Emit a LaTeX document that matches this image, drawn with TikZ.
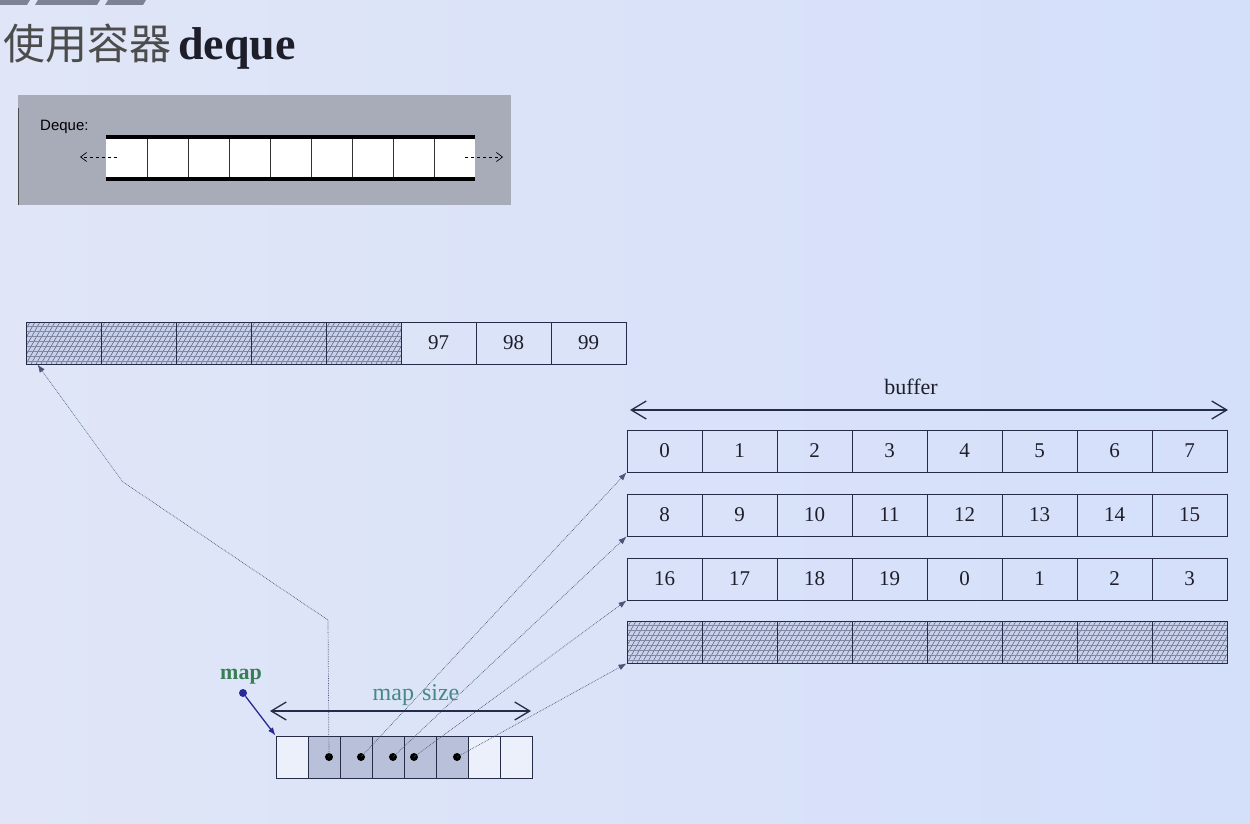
\documentclass[tikz,border=0pt]{standalone}
\usepackage{fontspec}
\setmainfont{Liberation Serif}
\newfontfamily\cjk{Noto Sans CJK SC}
\newfontfamily\arialf{Liberation Sans}
\usetikzlibrary{arrows.meta}
\definecolor{bgL}{RGB}{224,230,247}
\definecolor{bgR}{RGB}{212,223,250}
\definecolor{linec}{RGB}{38,44,72}
\definecolor{txtc}{RGB}{30,30,42}
\definecolor{hatchbg}{RGB}{200,208,234}
\definecolor{hatchc}{RGB}{75,85,120}
\definecolor{mapshade}{RGB}{184,192,218}
\definecolor{greybox}{RGB}{168,172,184}
\definecolor{ptrc}{RGB}{75,85,120}
\definecolor{mapgreen}{RGB}{55,125,85}
\definecolor{mapsizec}{RGB}{70,135,140}
\definecolor{mapblue}{RGB}{40,40,150}
\definecolor{barc}{RGB}{125,130,148}
\tikzset{
  cell/.style={draw=linec, line width=1pt, minimum width=75pt, minimum height=42pt,
    inner sep=0pt, text=txtc, font=\fontsize{21}{21}\selectfont},
  mcell/.style={draw=linec, line width=1pt, minimum width=32pt, minimum height=42pt, inner sep=0pt},
  hatched/.style={fill=hatchbg, path picture={
      \foreach \k in {-30,-25,...,80} {
        \draw[hatchc, line width=0.45pt]
          ([xshift=\k pt]path picture bounding box.south west) --
          ([xshift=\k pt+24pt, yshift=42pt]path picture bounding box.south west);
      }
      \foreach \k in {3,8,...,42} {
        \draw[hatchc!70, line width=0.35pt]
          ([yshift=\k pt]path picture bounding box.south west) --
          ([yshift=\k pt]path picture bounding box.south east);
      }
    }},
  dotn/.style={circle, fill=black, inner sep=0pt, minimum size=8pt},
  ptr/.style={draw=ptrc, line width=0.7pt, densely dotted, -{Latex[length=8pt,width=6pt]}},
  dim/.style={draw=linec, line width=1.3pt, {Straight Barb[length=15pt,width=18pt]}-{Straight Barb[length=15pt,width=18pt]}},
  dqarrow/.style={draw=black, line width=0.7pt, dashed, -{Straight Barb[length=6pt,width=9pt]}}
}
\begin{document}
\begin{tikzpicture}[x=1pt,y=-1pt]
\useasboundingbox (0,0) rectangle (1250,824);
\shade[left color=bgL, right color=bgR] (0,0) rectangle (1250,824);
% header bars
\fill[barc] (0,0) -- (30,0) -- (27,5) -- (0,5) -- cycle;
\fill[barc] (38,0) -- (100,0) -- (97,5) -- (35,5) -- cycle;
\fill[barc] (108,0) -- (146,0) -- (143,5) -- (105,5) -- cycle;
% title
\node[anchor=base west, inner sep=0pt] (title) at (3,60)
  {{\cjk\fontsize{42}{42}\selectfont\color{black!70}使用容器}\hspace{7pt}{\fontsize{46}{46}\selectfont\bfseries\color{txtc}deque}};
% deque illustration box
\fill[greybox] (18,95) rectangle (511,205);
\draw[black!70, line width=1pt] (18,108) -- (18,205);
\node[anchor=west, inner sep=0pt, font=\arialf\fontsize{15}{15}\selectfont] (dqlabel) at (40,127) {Deque:};
\fill[white] (106,139) rectangle (475,177);
\draw[black, line width=4pt] (106,137) -- (475,137);
\draw[black, line width=4pt] (106,179) -- (475,179);
\foreach \i in {0,...,7} { \draw[black!80, line width=0.8pt] ({147+41*\i},139) -- ({147+41*\i},177); }
\coordinate (dqLs) at (117,157);
\coordinate (dqLe) at (80,157);
\coordinate (dqRs) at (465,157);
\coordinate (dqRe) at (503,157);
\draw[dqarrow] (dqLs) -- (dqLe);
\draw[dqarrow] (dqRs) -- (dqRe);
% top array
\foreach \i in {1,...,5} { \node[cell, hatched] (t\i) at ({26+75*(\i-0.5)},343) {}; }
\node[cell] (t6) at ({26+75*5.5},343) {97};
\node[cell] (t7) at ({26+75*6.5},343) {98};
\node[cell] (t8) at ({26+75*7.5},343) {99};
% buffer dimension
\coordinate (bufL) at (630,410);
\coordinate (bufR) at (1228,410);
\draw[dim] (bufL) -- (bufR);
\node[text=txtc, font=\fontsize{22}{22}\selectfont] (buflabel) at (911,387) {buffer};
% buffer rows
\foreach \v [count=\i] in {0,1,2,3,4,5,6,7} { \node[cell] (ra\i) at ({627+75*(\i-0.5)},451) {\v}; }
\foreach \v [count=\i] in {8,9,10,11,12,13,14,15} { \node[cell] (rb\i) at ({627+75*(\i-0.5)},515) {\v}; }
\foreach \v [count=\i] in {16,17,18,19,0,1,2,3} { \node[cell] (rc\i) at ({627+75*(\i-0.5)},579) {\v}; }
\foreach \i in {1,...,8} { \node[cell, hatched] (rd\i) at ({627+75*(\i-0.5)},642) {}; }
% map cells
\foreach \i in {1,...,8} {
  \ifnum\i>1 \ifnum\i<7
    \node[mcell, fill=mapshade] (m\i) at ({276+32*(\i-0.5)},757) {};
  \else
    \node[mcell, fill=white!40!bgL] (m\i) at ({276+32*(\i-0.5)},757) {};
  \fi\else
    \node[mcell, fill=white!40!bgL] (m\i) at ({276+32*(\i-0.5)},757) {};
  \fi
}
% dots
\node[dotn] (d1) at (329,757) {};
\node[dotn] (d2) at (361,757) {};
\node[dotn] (d3) at (393,757) {};
\node[dotn] (d4) at (414,757) {};
\node[dotn] (d5) at (457,757) {};
% pointers
\coordinate (bend1) at (328,620);
\coordinate (bend2) at (123,482);
\draw[ptr] (d1.center) -- (bend1) -- (bend2) -- ([xshift=12pt]t1.south west);
\draw[ptr] (d2.center) -- (ra1.south west);
\draw[ptr] (d3.center) -- (rb1.south west);
\draw[ptr] (d4.center) -- (rc1.south west);
\draw[ptr] (d5.center) -- (rd1.south west);
% map size
\coordinate (msL) at (270,711);
\coordinate (msR) at (531,711);
\draw[dim] (msL) -- (msR);
\node[text=mapsizec, font=\fontsize{24}{24}\selectfont] (mslabel) at (416,695) {map\hspace{8pt}size};
% map pointer
\node[text=mapgreen, font=\fontsize{22}{22}\selectfont\bfseries] (maplabel) at (241,677) {map};
\node[circle, fill=mapblue, inner sep=0pt, minimum size=8pt] (mapdot) at (243,693) {};
\draw[mapblue, line width=1.3pt, -{Latex[length=8pt,width=6pt]}] (mapdot) -- (m1.north west);
\end{tikzpicture}
\end{document}
